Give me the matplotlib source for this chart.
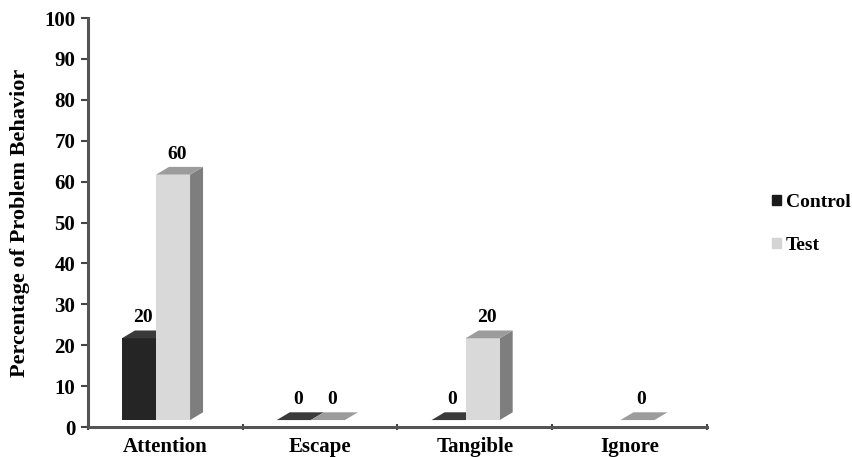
import matplotlib.pyplot as plt
from matplotlib.patches import Patch

categories = ['Attention', 'Escape', 'Tangible', 'Ignore']
control = [20, 0, 0, None]
test = [60, 0, 20, 0]

plt.rcParams['font.family'] = 'Liberation Serif'
plt.rcParams['font.weight'] = 'bold'

# fake 3D column geometry (data units)
bar_w = 0.22
dx = 0.084
dy = 1.9
floor = 1.7


def column(ax, x0, value, front, top, side):
    y0 = floor
    y1 = floor + value
    ax.fill([x0 + bar_w, x0 + bar_w + dx, x0 + bar_w + dx, x0 + bar_w],
            [y0, y0 + dy, y1 + dy, y1], color=side, lw=0, zorder=2)
    ax.fill([x0, x0 + bar_w, x0 + bar_w, x0],
            [y0, y0, y1, y1], color=front, lw=0, zorder=2)
    ax.fill([x0, x0 + bar_w, x0 + bar_w + dx, x0 + dx],
            [y1, y1, y1 + dy, y1 + dy], color=top, lw=0, zorder=2)
    ax.text(x0 + bar_w / 2 + dx * 0.3, y1 + dy + 1.0, str(value),
            ha='center', va='bottom', fontsize=14, fontweight='bold')


fig = plt.figure(figsize=(8.53, 4.57), dpi=100)
ax = fig.add_axes([0.103, 0.0656, 0.726, 0.895])

for i, cat in enumerate(categories):
    c = i + 0.5
    if control[i] is not None:
        column(ax, c - 0.28, control[i], '#252525', '#3a3a3a', '#1a1a1a')
    if test[i] is not None:
        column(ax, c - 0.06, test[i], '#d9d9d9', '#9c9c9c', '#7e7e7e')

ax.set_xlim(0, 4)
ax.set_ylim(0, 100)
ax.set_yticks(range(0, 101, 10))
ax.set_xticks(range(0, 5))
ax.set_xticklabels([])
ax.set_xticks([i + 0.5 for i in range(4)], minor=True)
ax.set_xticklabels(categories, minor=True, fontsize=15, fontweight='bold')
ax.tick_params(axis='x', which='minor', length=0, pad=7)
ax.tick_params(axis='x', which='major', length=5, width=1.5, color='#444444', direction='inout')
ax.tick_params(axis='y', length=5, width=1.5, color='#444444', labelsize=15, pad=4)

for s in ['top', 'right']:
    ax.spines[s].set_visible(False)
for s in ['left', 'bottom']:
    ax.spines[s].set_color('#555555')
    ax.spines[s].set_linewidth(2.2)

ax.set_ylabel('Percentage of Problem Behavior', fontsize=16, fontweight='bold', labelpad=10)

handles = [Patch(color='#1a1a1a'), Patch(color='#d4d4d4')]
ax.legend(handles, ['Control', 'Test'], loc='center left',
          bbox_to_anchor=(0.905, 0.51), bbox_transform=fig.transFigure,
          frameon=False, handlelength=0.45, handleheight=0.45, handletextpad=0.25,
          borderpad=0, borderaxespad=0, labelspacing=1.35,
          prop={'size': 14, 'weight': 'bold'})

fig.savefig('out.png', dpi=100)
